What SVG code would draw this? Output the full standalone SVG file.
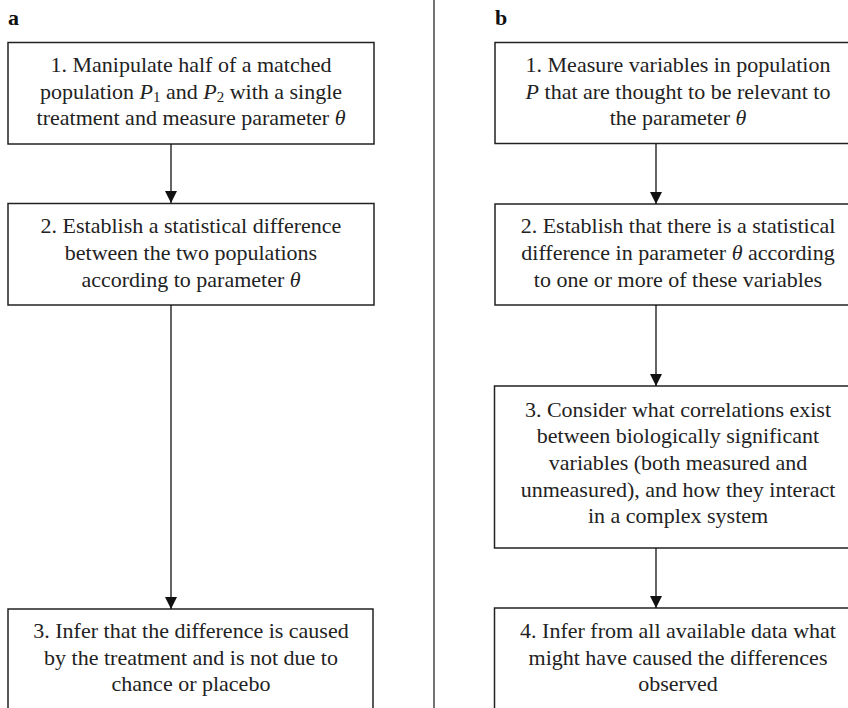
<svg xmlns="http://www.w3.org/2000/svg" width="848" height="708" viewBox="0 0 848 708">
<defs>
<marker id="arr" markerWidth="12" markerHeight="12" refX="10" refY="5" orient="auto" markerUnits="userSpaceOnUse" viewBox="0 0 10 10">
<path d="M0,0 L10,5 L0,10 Z" fill="#111"/>
</marker>
<style>
.box{fill:#fff;stroke:#222;stroke-width:1.5}
.t{font-family:"Liberation Serif","Times New Roman",serif;font-size:22px;fill:#222;text-anchor:middle}
.lbl{font-family:"Liberation Serif","Times New Roman",serif;font-size:22px;font-weight:bold;fill:#111}
.i{font-style:italic}
.c{stroke:#111;stroke-width:1.3;fill:none;marker-end:url(#arr)}
</style>
</defs>
<rect width="848" height="708" fill="#fff"/>
<line x1="434" y1="0" x2="434" y2="708" stroke="#444" stroke-width="1.5"/>
<text class="lbl" x="8" y="25">a</text>
<text class="lbl" x="495" y="25">b</text>

<g id="a1">
<rect class="box" x="8" y="42.5" width="366" height="101.5"/>
<text class="t" x="191" y="72">1. Manipulate half of a matched</text>
<text class="t" x="191" y="98.5">population <tspan class="i">P</tspan><tspan font-size="15" dy="3">1</tspan><tspan dy="-3"> and </tspan><tspan class="i">P</tspan><tspan font-size="15" dy="3">2</tspan><tspan dy="-3"> with a single</tspan></text>
<text class="t" x="191" y="125">treatment and measure parameter <tspan class="i">θ</tspan></text>
</g>
<g id="a2">
<rect class="box" x="8" y="203.5" width="366" height="101.5"/>
<text class="t" x="191" y="233">2. Establish a statistical difference</text>
<text class="t" x="191" y="260">between the two populations</text>
<text class="t" x="191" y="287">according to parameter <tspan class="i">θ</tspan></text>
</g>
<g id="a3">
<rect class="box" x="8" y="609" width="365" height="110"/>
<text class="t" x="191" y="638">3. Infer that the difference is caused</text>
<text class="t" x="191" y="665">by the treatment and is not due to</text>
<text class="t" x="191" y="691">chance or placebo</text>
</g>

<g id="b1">
<rect class="box" x="495" y="42.5" width="370" height="101"/>
<text class="t" x="678" y="72">1. Measure variables in population</text>
<text class="t" x="678" y="98.5"><tspan class="i">P</tspan> that are thought to be relevant to</text>
<text class="t" x="678" y="125">the parameter <tspan class="i">θ</tspan></text>
</g>
<g id="b2">
<rect class="box" x="495" y="204" width="370" height="101"/>
<text class="t" x="678" y="233">2. Establish that there is a statistical</text>
<text class="t" x="678" y="260">difference in parameter <tspan class="i">θ</tspan> according</text>
<text class="t" x="678" y="287">to one or more of these variables</text>
</g>
<g id="b3">
<rect class="box" x="494.5" y="386" width="370" height="162"/>
<text class="t" x="678" y="416.5">3. Consider what correlations exist</text>
<text class="t" x="678" y="443">between biologically significant</text>
<text class="t" x="678" y="470">variables (both measured and</text>
<text class="t" x="678" y="496.5">unmeasured), and how they interact</text>
<text class="t" x="678" y="523">in a complex system</text>
</g>
<g id="b4">
<rect class="box" x="494.5" y="608" width="370" height="110"/>
<text class="t" x="678" y="638">4. Infer from all available data what</text>
<text class="t" x="678" y="665">might have caused the differences</text>
<text class="t" x="678" y="691">observed</text>
</g>

<g id="connectors">
<line class="c" x1="171" y1="144" x2="171" y2="203"/>
<line class="c" x1="171" y1="305" x2="171" y2="609"/>
<line class="c" x1="656" y1="143.5" x2="656" y2="204"/>
<line class="c" x1="656" y1="305" x2="656" y2="386"/>
<line class="c" x1="656" y1="548" x2="656" y2="608"/>
</g>
</svg>
